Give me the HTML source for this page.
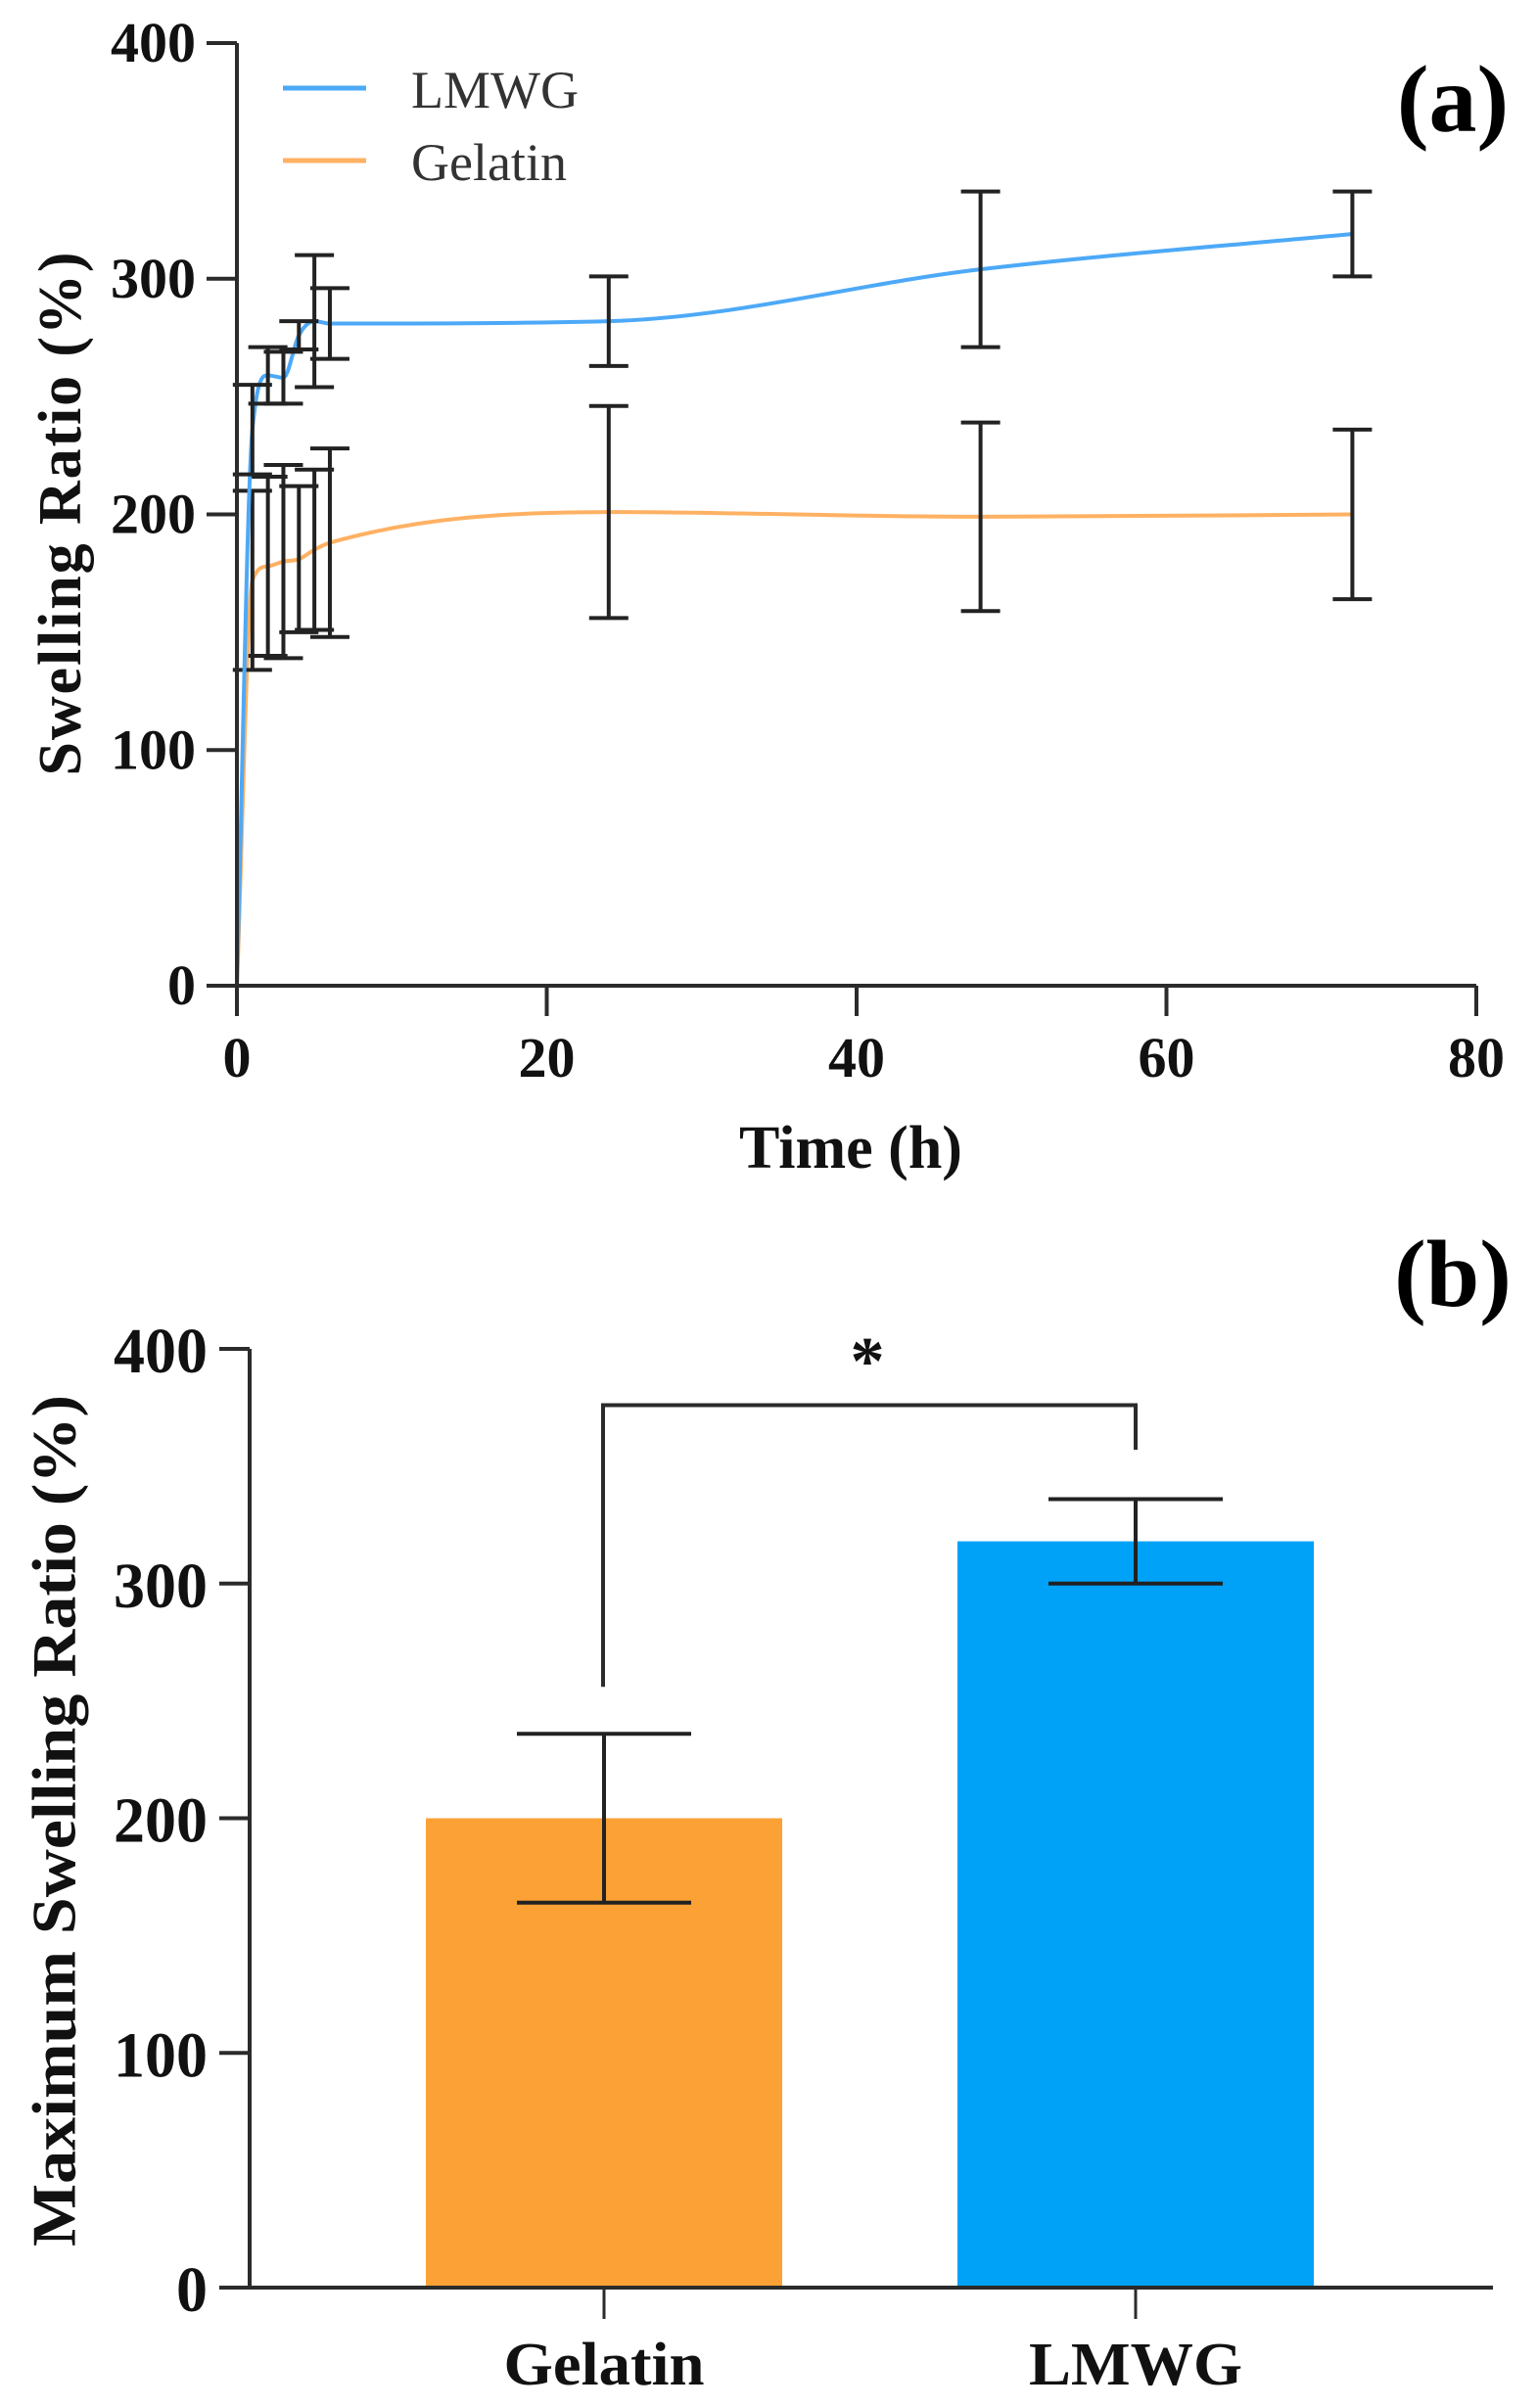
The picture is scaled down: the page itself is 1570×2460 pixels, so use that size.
<!DOCTYPE html>
<html><head><meta charset="utf-8"><style>
html,body{margin:0;padding:0;background:#fff;}
svg{display:block;font-family:"Liberation Serif","DejaVu Serif",serif;}
</style></head><body>
<svg id="fig" width="1570" height="2460" viewBox="0 0 1570 2460" xmlns="http://www.w3.org/2000/svg">
<rect width="1570" height="2460" fill="#fff"/>
<g id="chartA"></g>
<g id="chartB"></g>
</svg>
<script>
// ---- Chart (a) data ----
const timesA = [0, 1, 2, 3, 4, 5, 6, 24, 48, 72];
const lmwgMean = [0, 236, 259, 258, 276, 282, 281, 282, 304, 319];
const lmwgErr = [0, 19, 12, 11, 6, 28, 15, 19, 33, 18];
const gelMean = [0, 172, 178, 180, 181, 185, 188, 201, 199, 200];
const gelErr = [0, 38, 38, 41, 31, 34, 40, 45, 40, 36];
const xTicksA = [0, 20, 40, 60, 80];
const yTicksA = [0, 100, 200, 300, 400];
// ---- Chart (b) data ----
const groupsB = ["Gelatin", "LMWG"];
const maxMean = [200, 318];
const maxErr = [36, 18];
const yTicksB = [0, 100, 200, 300, 400];

const NS = "http://www.w3.org/2000/svg";
function mk(parent, tag, attrs, text) {
  const e = document.createElementNS(NS, tag);
  for (const k in attrs) e.setAttribute(k, attrs[k]);
  if (text !== undefined) e.textContent = text;
  parent.appendChild(e);
  return e;
}
const AX = "#2b2b2b";

const xA = t => 242 + t * (1508 - 242) / 80;
const yA = v => 1007 - v * (1007 - 44) / 400;

const gA = document.getElementById("chartA");

function monotonePath(xs, ys) {
  const n = xs.length, d = [], m = [];
  for (let i = 0; i < n - 1; i++) d.push((ys[i + 1] - ys[i]) / (xs[i + 1] - xs[i]));
  m.push(d[0]);
  for (let i = 1; i < n - 1; i++) m.push(d[i - 1] * d[i] <= 0 ? 0 : (d[i - 1] + d[i]) / 2);
  m.push(d[n - 2]);
  for (let i = 0; i < n - 1; i++) {
    if (d[i] === 0) { m[i] = 0; m[i + 1] = 0; continue; }
    const a = m[i] / d[i], b = m[i + 1] / d[i], s = a * a + b * b;
    if (s > 9) { const t = 3 / Math.sqrt(s); m[i] = t * a * d[i]; m[i + 1] = t * b * d[i]; }
  }
  let p = "M" + xs[0] + "," + ys[0];
  for (let i = 0; i < n - 1; i++) {
    const h = xs[i + 1] - xs[i];
    p += " C" + (xs[i] + h / 3) + "," + (ys[i] + m[i] * h / 3) + " " + (xs[i + 1] - h / 3) + "," + (ys[i + 1] - m[i + 1] * h / 3) + " " + xs[i + 1] + "," + ys[i + 1];
  }
  return p;
}

function drawSeries(means, errs, color, name) {
  const xs = timesA.map(xA), ys = means.map(yA);
  const line = mk(gA, "path", {d: monotonePath(xs, ys), fill: "none", stroke: color, "stroke-width": 4});
  
  
  for (let i = 1; i < timesA.length; i++) {
    const x = xA(timesA[i]), yt = yA(means[i] + errs[i]), yb = yA(means[i] - errs[i]);
    const eb = mk(gA, "path", {d: `M${x},${yt}V${yb}M${x - 20},${yt}H${x + 20}M${x - 20},${yb}H${x + 20}`, fill: "none", stroke: "#222", "stroke-width": 4});
    
    
  }
}
drawSeries(gelMean, gelErr, "#FFB163", "gelatin");
drawSeries(lmwgMean, lmwgErr, "#4DA9F7", "lmwg");

const axA = mk(gA, "path", {d: `M${xA(0)},${yA(400)}V${yA(0)}H${xA(80)}`, fill: "none", stroke: AX, "stroke-width": 4});


yTicksA.forEach(v => {
  const t = mk(gA, "line", {x1: 211, x2: 242, y1: yA(v), y2: yA(v), stroke: AX, "stroke-width": 4});
  
  
  const l = mk(gA, "text", {x: 200, y: yA(v) + 19, "text-anchor": "end", "font-size": 58, "font-weight": "bold", fill: "#111"}, String(v));
  
  
});
xTicksA.forEach(v => {
  const t = mk(gA, "line", {x1: xA(v), x2: xA(v), y1: 1007, y2: 1038, stroke: AX, "stroke-width": 4});
  
  
  const l = mk(gA, "text", {x: xA(v), y: 1100, "text-anchor": "middle", "font-size": 58, "font-weight": "bold", fill: "#111"}, String(v));
  
  
});
</script>
<script>
(function(){
const gA = document.getElementById("chartA");
function T(parent, attrs, txt, name){
  const e = document.createElementNS("http://www.w3.org/2000/svg","text");
  for (const k in attrs) e.setAttribute(k, attrs[k]);
  e.textContent = txt;
  
  
  parent.appendChild(e); return e;
}
T(gA, {x:62, y:525, transform:"rotate(-90 62 525)", "text-anchor":"middle", "dominant-baseline":"central", "font-size":62, "font-weight":"bold", fill:"#111", textLength:535}, "Swelling Ratio (%)", 'y-axis-title-a');
T(gA, {x:869, y:1193, "text-anchor":"middle", "font-size":62, "font-weight":"bold", fill:"#111"}, "Time (h)", 'x-axis-title-a');
T(gA, {x:1484, y:134, "text-anchor":"middle", "font-size":98, "font-weight":"bold", fill:"#000"}, "(a)", 'panel-label-a');
const lg = document.createElementNS("http://www.w3.org/2000/svg","g");


gA.appendChild(lg);
[["LMWG","#4DA9F7",90],["Gelatin","#FFB163",164]].forEach(([n,c,y])=>{
  const l = document.createElementNS("http://www.w3.org/2000/svg","line");
  l.setAttribute("x1",289);l.setAttribute("x2",374);l.setAttribute("y1",y);l.setAttribute("y2",y);
  l.setAttribute("stroke",c);l.setAttribute("stroke-width",5);
  
  
  lg.appendChild(l);
  T(lg, {x:420, y:y+20, "font-size":54, fill:"#333"}, n, 'legend-entry');
});
})();

(function(){
const NS = "http://www.w3.org/2000/svg";
const gB = document.getElementById("chartB");
const yB = v => 2337 - v * (2337 - 1378) / 400;
const xB = i => 617 + i * (1160 - 617);
const colors = ["#FBA135", "#00A2F8"];
function add(tag, attrs, txt){ const e=document.createElementNS(NS,tag); for(const k in attrs) e.setAttribute(k,attrs[k]); if(txt!==undefined) e.textContent=txt; gB.appendChild(e); return e; }
groupsB.forEach((g,i)=>{
  const b = add("rect",{x:xB(i)-182, y:yB(maxMean[i]), width:364, height:yB(0)-yB(maxMean[i]), fill:colors[i]});
  
  
  const x=xB(i), yt=yB(maxMean[i]+maxErr[i]), yb=yB(maxMean[i]-maxErr[i]);
  const e = add("path",{d:`M${x},${yt}V${yb}M${x-89},${yt}H${x+89}M${x-89},${yb}H${x+89}`, fill:"none", stroke:"#222", "stroke-width":4});
  
  
  const t = add("line",{x1:x,x2:x,y1:2337,y2:2369,stroke:"#2b2b2b","stroke-width":3});
  
  
  const l = add("text",{x:x,y:2436,"text-anchor":"middle","font-size":62,"font-weight":"bold",fill:"#111",textLength:g==="Gelatin"?205:218,lengthAdjust:"spacingAndGlyphs"},g);
  
  
});
const ax = add("path",{d:`M255,${yB(400)}V${yB(0)}M225,${yB(0)}H1525`, fill:"none", stroke:"#2b2b2b", "stroke-width":4});


yTicksB.forEach(v=>{
  const t = add("line",{x1:224,x2:255,y1:yB(v),y2:yB(v),stroke:"#2b2b2b","stroke-width":4});
  
  
  const l = add("text",{x:212,y:yB(v)+24,"text-anchor":"end","font-size":66,"font-weight":"bold",fill:"#111",textLength:String(v).length*32,lengthAdjust:"spacingAndGlyphs"},String(v));
  
  
});
const br = add("path",{d:`M616,${yB(256)}V${yB(376)}H1160V${yB(357)}`, fill:"none", stroke:"#2b2b2b", "stroke-width":4});


const st = add("text",{x:886,y:1414,"text-anchor":"middle","font-size":70,"font-weight":"bold",fill:"#111"},"*");


const yt = add("text",{x:55,y:1860,transform:"rotate(-90 55 1860)","text-anchor":"middle","dominant-baseline":"central","font-size":64,"font-weight":"bold",fill:"#111",textLength:870,lengthAdjust:"spacingAndGlyphs"},"Maximum Swelling Ratio  (%)");


const pl = add("text",{x:1484,y:1334,"text-anchor":"middle","font-size":98,"font-weight":"bold",fill:"#000"},"(b)");


})();
</script>
</body></html>
